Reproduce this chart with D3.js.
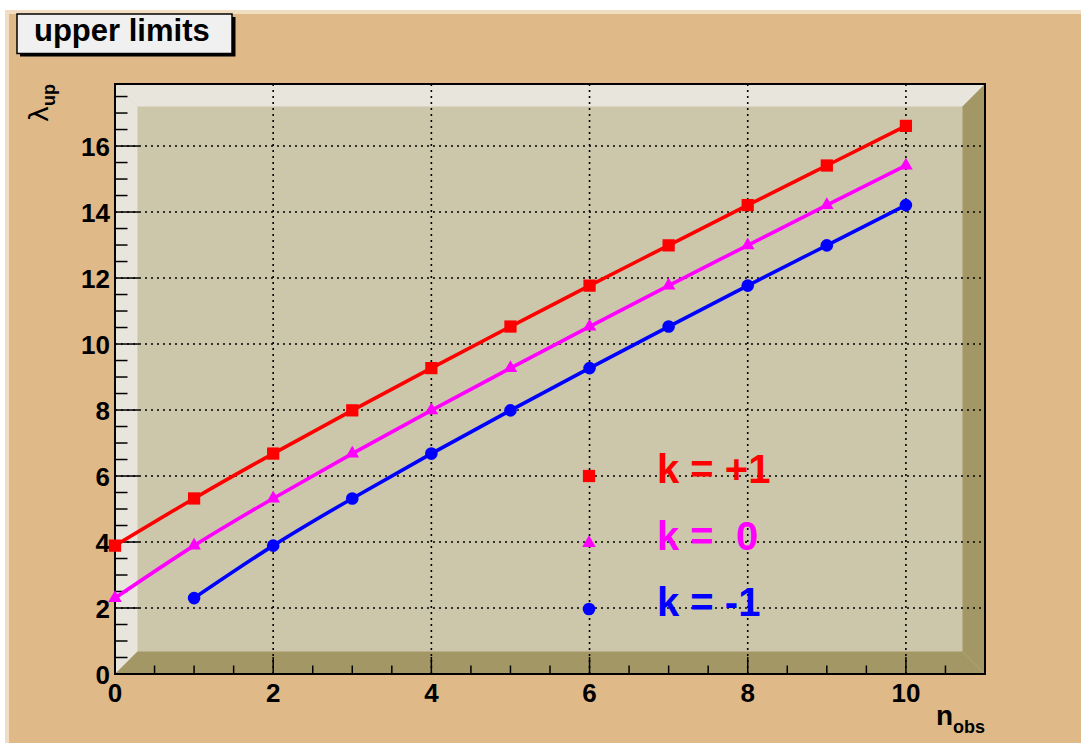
<!DOCTYPE html>
<html>
<head>
<meta charset="utf-8">
<script src="https://cdn.jsdelivr.net/npm/d3@7"></script>
<style>
  html, body { margin: 0; padding: 0; background: #ffffff; }
  svg { display: block; }
  text { font-family: "Liberation Sans", Arial, Helvetica, sans-serif; }
</style>
</head>
<body>
<script>
// ---------------- data ----------------
const nObs = [0, 1, 2, 3, 4, 5, 6, 7, 8, 9, 10];
const kPlus1 = [3.89, 5.32, 6.68, 7.99, 9.27, 10.53, 11.77, 12.99, 14.21, 15.41, 16.61];
const kZero = [2.30, 3.89, 5.32, 6.68, 7.99, 9.27, 10.53, 11.77, 12.99, 14.21, 15.41];
const nObsMinus1 = [1, 2, 3, 4, 5, 6, 7, 8, 9, 10];
const kMinus1 = [2.30, 3.89, 5.32, 6.68, 7.99, 9.27, 10.53, 11.77, 12.99, 14.21];
const xTickLabels = [0, 2, 4, 6, 8, 10];
const yTickLabels = [0, 2, 4, 6, 8, 10, 12, 14, 16];
const legendLabels = ["k = +1", "k =  0", "k = -1"];
const titleText = "upper limits";

// ---------------- layout ----------------
const W = 1081, H = 743;
const fx0 = 115, fx1 = 985, fy0 = 84, fy1 = 674, depth = 22.5;

const svg = d3.select("body").append("svg").attr("width", W).attr("height", H);

// canvas background
svg.append("rect").attr("x", 0).attr("y", 0).attr("width", W).attr("height", H).attr("fill", "#ffffff");
svg.append("rect").attr("x", 5).attr("y", 10).attr("width", W - 5).attr("height", H - 10).attr("fill", "#f1ddc2");
svg.append("rect").attr("x", 9).attr("y", 14).attr("width", W - 9).attr("height", H - 14).attr("fill", "#dfb988");

const x = d3.scaleLinear().domain([0, 11]).range([fx0, fx1]);
const y = d3.scaleLinear().domain([0, 17.88]).range([fy1, fy0]);

// 3D frame
const ix0 = fx0 + depth, ix1 = fx1 - depth, iy0 = fy0 + depth, iy1 = fy1 - depth;
svg.append("rect").attr("x", fx0).attr("y", fy0).attr("width", fx1 - fx0).attr("height", fy1 - fy0).attr("fill", "#ccc7aa");
const poly = (pts, fill) => svg.append("polygon").attr("points", pts.map(p => p.join(",")).join(" ")).attr("fill", fill);
poly([[fx0, fy0], [ix0, iy0], [ix0, iy1], [fx0, fy1]], "#e8e6dc");
poly([[fx0, fy0], [fx1, fy0], [ix1, iy0], [ix0, iy0]], "#e8e6dc");
poly([[fx0, fy1], [ix0, iy1], [ix1, iy1], [fx1, fy1]], "#a39865");
poly([[fx1, fy0], [ix1, iy0], [ix1, iy1], [fx1, fy1]], "#a39865");

// grid
const grid = svg.append("g").attr("stroke", "#000").attr("stroke-width", 1.6).attr("stroke-dasharray", "2,4");
xTickLabels.filter(v => v > 0).forEach(v => {
  grid.append("line").attr("x1", x(v)).attr("x2", x(v)).attr("y1", fy0).attr("y2", fy1);
});
yTickLabels.filter(v => v > 0).forEach(v => {
  grid.append("line").attr("x1", fx0).attr("x2", fx1).attr("y1", y(v)).attr("y2", y(v));
});

// ticks
const ticks = svg.append("g").attr("stroke", "#000").attr("stroke-width", 1.5);
d3.range(0, 11.001, 0.5).forEach(v => {
  const major = Math.abs(v % 2) < 1e-9;
  const len = major ? 17 : 8.5;
  ticks.append("line").attr("x1", x(v)).attr("x2", x(v)).attr("y1", fy1).attr("y2", fy1 - len);
});
d3.range(0, 17.88, 0.5).forEach(v => {
  const major = Math.abs(v % 2) < 1e-9;
  const len = major ? 24 : 12.5;
  ticks.append("line").attr("x1", fx0).attr("x2", fx0 + len).attr("y1", y(v)).attr("y2", y(v));
});

// frame border
svg.append("rect").attr("x", fx0).attr("y", fy0).attr("width", fx1 - fx0).attr("height", fy1 - fy0)
  .attr("fill", "none").attr("stroke", "#000").attr("stroke-width", 2);

// tick labels
svg.append("g").selectAll("text").data(xTickLabels).join("text")
  .attr("x", v => x(v)).attr("y", 702).attr("text-anchor", "middle")
  .attr("font-size", 26).attr("font-weight", "bold").text(v => v);
svg.append("g").selectAll("text").data(yTickLabels).join("text")
  .attr("x", 110).attr("y", v => y(v) + 9.5).attr("text-anchor", "end")
  .attr("font-size", 26).attr("font-weight", "bold").text(v => v);

// axis titles
const xt = svg.append("text").attr("x", fx1).attr("y", 725).attr("text-anchor", "end").attr("font-weight", "bold");
xt.append("tspan").attr("font-size", 28).text("n");
xt.append("tspan").attr("font-size", 18).attr("dy", 8).text("obs");

const yt = svg.append("text").attr("transform", `translate(48,${fy0}) rotate(-90)`).attr("text-anchor", "end");
yt.append("tspan").attr("font-size", 27).attr("font-family", "DejaVu Sans").text("λ");
yt.append("tspan").attr("font-size", 18).attr("font-weight", "bold").attr("dy", 7).text("up");

// series
const series = [
  { xs: nObs, ys: kPlus1, color: "#ff0000", shape: d3.symbolSquare, size: 150 },
  { xs: nObs, ys: kZero, color: "#ff00ff", shape: d3.symbolTriangle, size: 80 },
  { xs: nObsMinus1, ys: kMinus1, color: "#0000ff", shape: d3.symbolCircle, size: 125 }
];
const line = d3.line().x(d => x(d[0])).y(d => y(d[1])).curve(d3.curveNatural);
series.forEach(s => {
  const pts = s.xs.map((v, i) => [v, s.ys[i]]);
  svg.append("path").attr("d", line(pts)).attr("fill", "none").attr("stroke", s.color).attr("stroke-width", 3.6);
  svg.append("g").selectAll("path").data(pts).join("path")
    .attr("transform", d => `translate(${x(d[0])},${y(d[1])})`)
    .attr("d", d3.symbol().type(s.shape).size(s.size)).attr("fill", s.color);
});

// legend
const legY = [476, 543, 609];
series.forEach((s, i) => {
  svg.append("path").attr("transform", `translate(589,${legY[i]})`)
    .attr("d", d3.symbol().type(s.shape).size(s.size)).attr("fill", s.color);
  svg.append("text").attr("x", 657).attr("y", legY[i] + 7).attr("font-size", 40).attr("font-weight", "bold")
    .attr("fill", s.color).attr("xml:space", "preserve").style("white-space", "pre").text(legendLabels[i]);
});

// title box
svg.append("rect").attr("x", 20).attr("y", 17).attr("width", 215.5).attr("height", 39.5).attr("fill", "#000");
svg.append("rect").attr("x", 17).attr("y", 14).attr("width", 215).attr("height", 39.5).attr("fill", "#f0f0f0")
  .attr("stroke", "#000").attr("stroke-width", 1.5);
svg.append("text").attr("x", 34).attr("y", 41).attr("font-size", 31).attr("font-weight", "bold").text(titleText);
</script>
</body>
</html>
